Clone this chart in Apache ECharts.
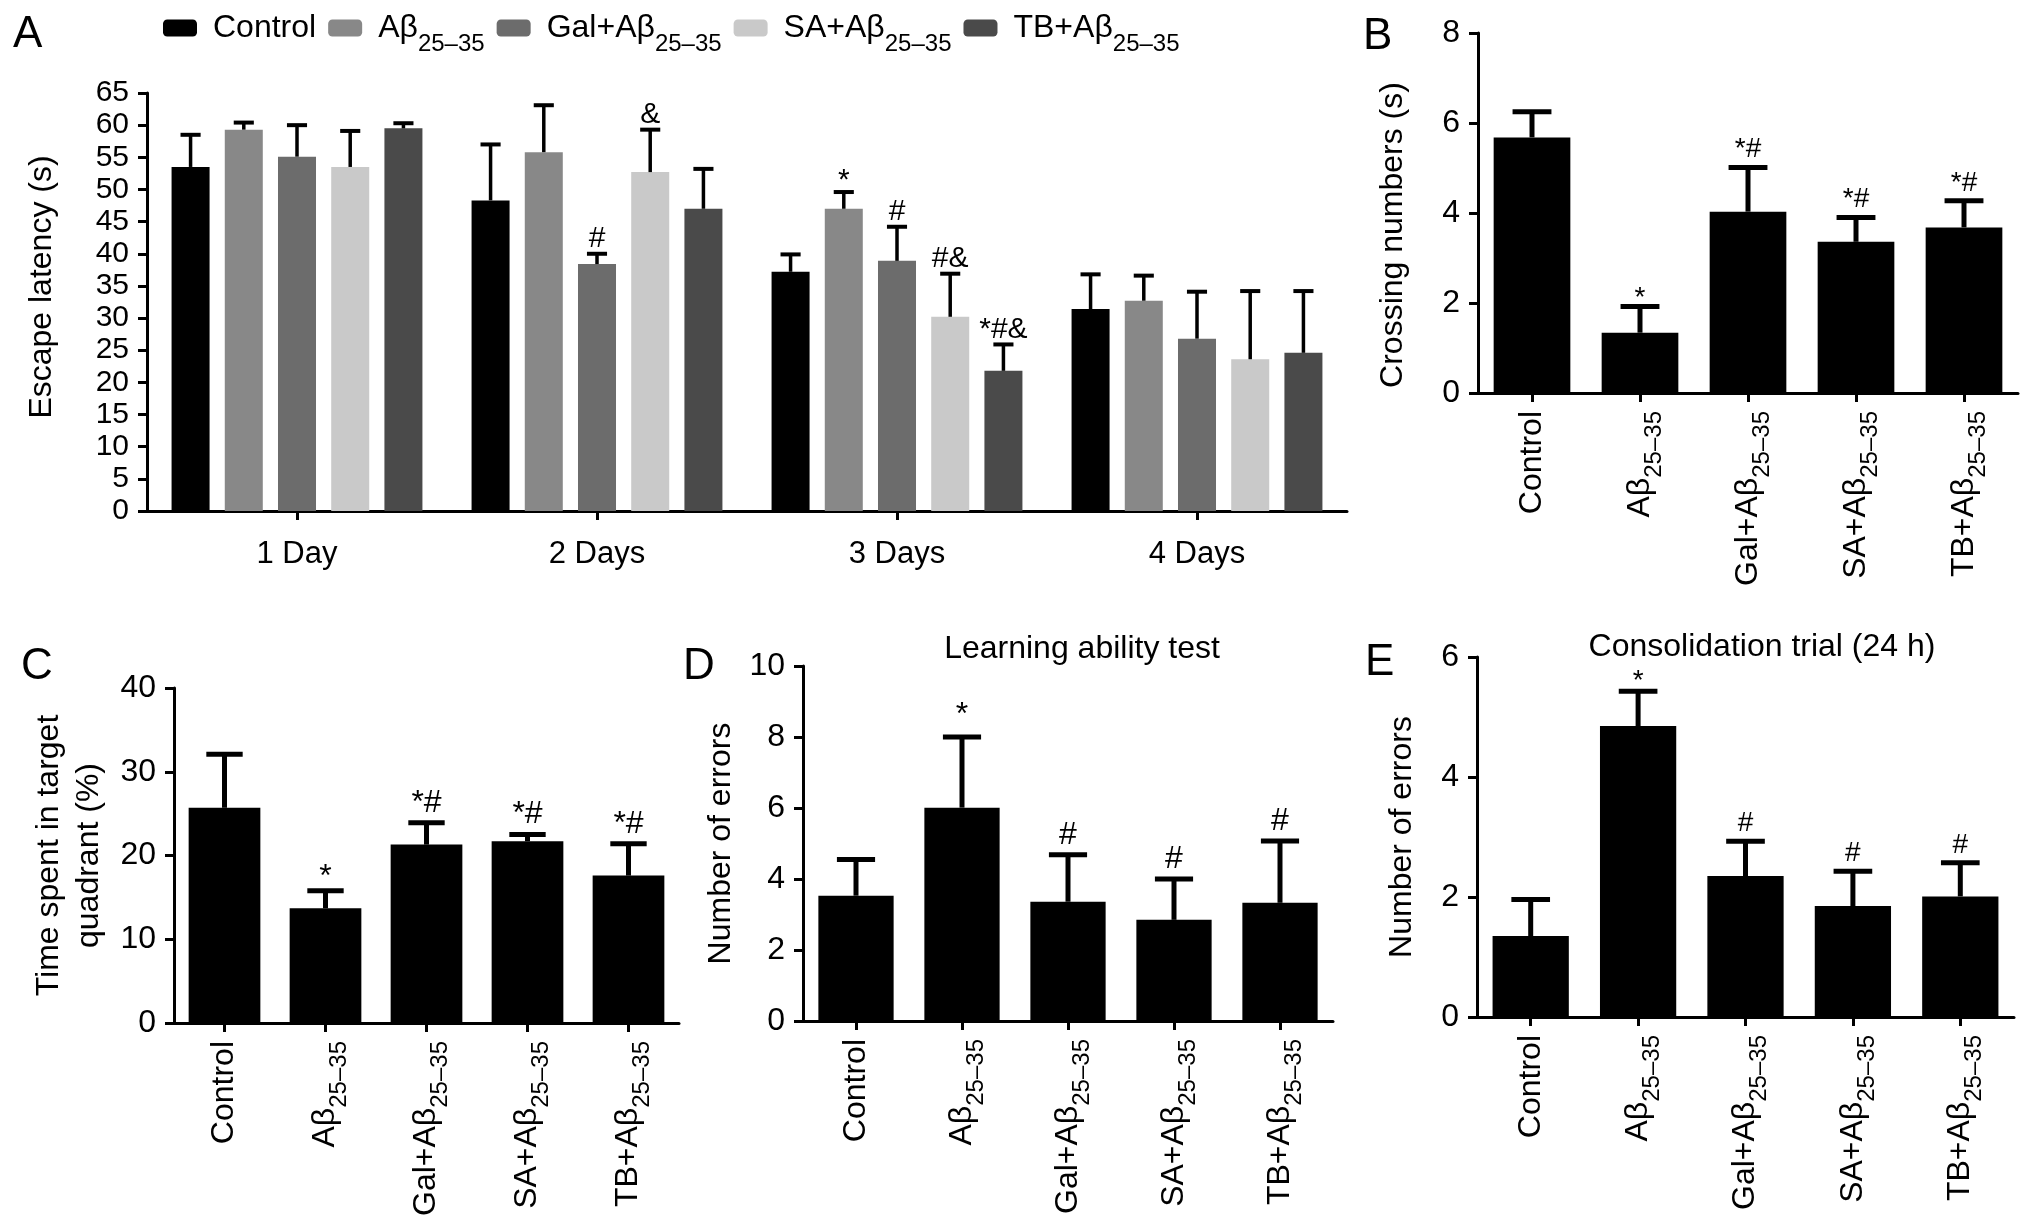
<!DOCTYPE html>
<html><head><meta charset="utf-8">
<script src="https://cdn.jsdelivr.net/npm/echarts@6/dist/echarts.min.js"></script>
<style>html,body{margin:0;padding:0;background:#fff}#c{width:2032px;height:1230px}</style>
</head><body><div id="c"></div>
<script>
// ---------- data ----------
const groups = ['Control', 'Aβ25–35', 'Gal+Aβ25–35', 'SA+Aβ25–35', 'TB+Aβ25–35'];
const days = ['1 Day', '2 Days', '3 Days', '4 Days'];
const groupColors = ['#000000', '#888888', '#6c6c6c', '#c9c9c9', '#4a4a4a'];

// Panel A: escape latency (s), mean and upper error-bar end, per day
const escControl = [53.5, 48.3, 37.2, 31.4];
const escAb      = [59.3, 55.8, 47.0, 32.7];
const escGal     = [55.1, 38.4, 38.9, 26.8];
const escSA      = [53.5, 52.7, 30.2, 23.6];
const escTB      = [59.5, 47.0, 21.8, 24.6];
const escControlTop = [58.5, 57.0, 39.9, 36.8];
const escAbTop      = [60.4, 63.1, 49.6, 36.6];
const escGalTop     = [60.0, 40.0, 44.2, 34.1];
const escSATop      = [59.1, 59.3, 36.9, 34.2];
const escTBTop      = [60.3, 53.2, 25.9, 34.2];
const escControlMark = ['', '', '', ''];
const escAbMark      = ['', '', '*', ''];
const escGalMark     = ['', '#', '#', ''];
const escSAMark      = ['', '&', '#&', ''];
const escTBMark      = ['', '', '*#&', ''];

// Panel B: crossing numbers
const crossing     = [5.68, 1.34, 4.03, 3.36, 3.68];
const crossingTop  = [6.25, 1.92, 5.01, 3.90, 4.27];
const crossingMark = ['', '*', '*#', '*#', '*#'];
// Panel C: time in target quadrant (%)
const targetTime     = [25.7, 13.7, 21.3, 21.7, 17.6];
const targetTimeTop  = [32.1, 15.8, 23.9, 22.5, 21.4];
const targetTimeMark = ['', '*', '*#', '*#', '*#'];
// Panel D: learning ability test, number of errors
const learnErrors     = [3.53, 6.01, 3.36, 2.85, 3.33];
const learnErrorsTop  = [4.55, 8.00, 4.68, 4.00, 5.07];
const learnErrorsMark = ['', '*', '#', '#', '#'];
// Panel E: consolidation trial (24 h), number of errors
const consErrors     = [1.35, 4.85, 2.35, 1.85, 2.01];
const consErrorsTop  = [1.96, 5.43, 2.93, 2.43, 2.57];
const consErrorsMark = ['', '*', '#', '#', '#'];

// ---------- helpers ----------
const FF = "'Liberation Sans', Arial, Helvetica, sans-serif";
function richName(name) {
  const i = name.indexOf('25–35');
  if (i < 0) return '{m|' + name + '}';
  return '{m|' + name.slice(0, i) + '}{s|25–35}';
}
const axisLine = {show: true, lineStyle: {color: '#000', width: 3}};
const axisTick = {show: true, length: 9, lineStyle: {color: '#000', width: 3}};

function yAxis(grid, max, interval, name, nameGap, nameSize, labelSize, namePad) {
  return {
    type: 'value', gridIndex: grid, min: 0, max: max, interval: interval,
    axisLine: axisLine, axisTick: axisTick, splitLine: {show: false},
    axisLabel: {color: '#000', fontSize: labelSize, fontFamily: FF, margin: 18},
    name: name, nameLocation: 'middle', nameRotate: 90, nameGap: nameGap,
    nameTextStyle: {color: '#000', fontSize: nameSize, fontFamily: FF, lineHeight: 40, padding: namePad}
  };
}
function groupXAxis(grid) {
  return {
    type: 'category', gridIndex: grid, data: groups, boundaryGap: true,
    axisLine: axisLine, axisTick: Object.assign({alignWithLabel: true}, axisTick),
    axisLabel: {
      rotate: 90, margin: 18, color: '#000', interval: 0,
      formatter: richName,
      rich: {
        m: {fontSize: 32, fontFamily: FF, color: '#000'},
        s: {fontSize: 24, fontFamily: FF, color: '#000', padding: [28, 0, 0, 0]}
      }
    }
  };
}
function errSeries(grid, means, tops, marks, cfg) {
  return {
    type: 'custom', xAxisIndex: grid, yAxisIndex: grid, z: 5, silent: true,
    data: means.map((m, i) => [i, m, tops[i]]),
    renderItem: function (params, api) {
      const cat = api.value(0);
      const base = api.coord([cat, api.value(1)]);
      const top = api.coord([cat, api.value(2)]);
      const band = api.size([1, 0])[0];
      const cx = base[0] + cfg.offset * band;
      const half = cfg.cap * band / 2;
      const children = [
        {type: 'line', shape: {x1: cx, y1: base[1], x2: cx, y2: top[1]},
          style: {stroke: '#000', lineWidth: cfg.lw}},
        {type: 'line', shape: {x1: cx - half, y1: top[1], x2: cx + half, y2: top[1]},
          style: {stroke: '#000', lineWidth: cfg.capW}}
      ];
      const mark = marks[params.dataIndex];
      if (mark) {
        const gap = mark === '*' ? cfg.starGap : cfg.gap;
        children.push({type: 'text', x: cx, y: top[1] - gap,
          style: {text: mark, fill: '#000', fontSize: cfg.fs, fontFamily: FF,
            align: 'center', verticalAlign: 'bottom'}});
      }
      return {type: 'group', children: children};
    }
  };
}
function barSeries(grid, name, values, color, width, gap) {
  return {
    type: 'bar', name: name, xAxisIndex: grid, yAxisIndex: grid, data: values,
    barWidth: width, barGap: gap, itemStyle: {color: color}, silent: true
  };
}

// ---------- panel A series ----------
const escMeans = [escControl, escAb, escGal, escSA, escTB];
const escTops = [escControlTop, escAbTop, escGalTop, escSATop, escTBTop];
const escMarks = [escControlMark, escAbMark, escGalMark, escSAMark, escTBMark];
const A_BAR = 0.1267, A_GAP = 0.4;
const series = [];
groups.forEach((g, i) => series.push(barSeries(0, g, escMeans[i], groupColors[i], (A_BAR * 100) + '%', (A_GAP * 100) + '%')));
groups.forEach((g, i) => series.push(errSeries(0, escMeans[i], escTops[i], escMarks[i],
  {offset: (i - 2) * A_BAR * (1 + A_GAP), cap: 0.067, lw: 3.5, capW: 4, gap: 0, starGap: -4, fs: 30})));

// ---------- panels B-E ----------
const single = [
  {grid: 1, v: crossing, t: crossingTop, m: crossingMark, fs: 28, gap: 4, starGap: -6},
  {grid: 2, v: targetTime, t: targetTimeTop, m: targetTimeMark, fs: 32, gap: 4, starGap: -2},
  {grid: 3, v: learnErrors, t: learnErrorsTop, m: learnErrorsMark, fs: 32, gap: 4, starGap: 6},
  {grid: 4, v: consErrors, t: consErrorsTop, m: consErrorsMark, fs: 28, gap: 4, starGap: -4}
];
single.forEach(p => {
  series.push(barSeries(p.grid, 'p' + p.grid, p.v, '#000', '71%', '0%'));
  series.push(errSeries(p.grid, p.v, p.t, p.m, {offset: 0, cap: 0.36, lw: 5, capW: 5, gap: p.gap, starGap: p.starGap, fs: p.fs}));
});

const panelLetter = (t, x, y) => ({text: t, left: x, top: y,
  textStyle: {fontSize: 44, fontWeight: 'normal', color: '#000', fontFamily: FF}});

const option = {
  backgroundColor: '#fff',
  animation: false,
  title: [
    panelLetter('A', 8, 8),
    panelLetter('B', 1358, 10),
    panelLetter('C', 16, 640),
    panelLetter('D', 678, 640),
    panelLetter('E', 1360, 636),
    {text: 'Learning ability test', left: 1077, top: 628, textAlign: 'center',
      textStyle: {fontSize: 32, fontWeight: 'normal', color: '#000', fontFamily: FF}},
    {text: 'Consolidation trial (24 h)', left: 1757, top: 626, textAlign: 'center',
      textStyle: {fontSize: 32, fontWeight: 'normal', color: '#000', fontFamily: FF}}
  ],
  legend: {
    data: groups, left: 158, top: 7, icon: 'roundRect', itemWidth: 34, itemHeight: 17, itemGap: 12,
    selectedMode: false,
    formatter: richName,
    textStyle: {
      rich: {
        m: {fontSize: 32, fontFamily: FF, color: '#000', padding: [0, 0, 0, 11]},
        s: {fontSize: 24, fontFamily: FF, color: '#000', padding: [32, 0, 0, 0]}
      }
    }
  },
  grid: [
    {left: 147, top: 93, width: 1200, height: 418},
    {left: 1478, top: 33, width: 540, height: 360},
    {left: 174, top: 688, width: 505, height: 335},
    {left: 803, top: 666, width: 530, height: 355},
    {left: 1477, top: 657, width: 537, height: 360}
  ],
  xAxis: [
    {type: 'category', gridIndex: 0, data: days, boundaryGap: true,
      axisLine: axisLine, axisTick: Object.assign({alignWithLabel: true}, axisTick),
      axisLabel: {color: '#000', fontSize: 31, fontFamily: FF, margin: 28}},
    groupXAxis(1), groupXAxis(2), groupXAxis(3), groupXAxis(4)
  ],
  yAxis: [
    yAxis(0, 65, 5, 'Escape latency (s)', 85, 32, 30, [0, 0, 0, 30]),
    yAxis(1, 8, 2, 'Crossing numbers (s)', 65, 32, 32, [0, 44, 0, 0]),
    yAxis(2, 40, 10, 'Time spent in target\nquadrant (%)', 65, 32, 32, 0),
    yAxis(3, 10, 2, 'Number of errors', 62, 32, 32, 0),
    yAxis(4, 6, 2, 'Number of errors', 55, 32, 32, 0)
  ],
  series: series
};
const chart = echarts.init(document.getElementById('c'), null, {renderer: 'canvas'});
chart.setOption(option);
</script></body></html>
